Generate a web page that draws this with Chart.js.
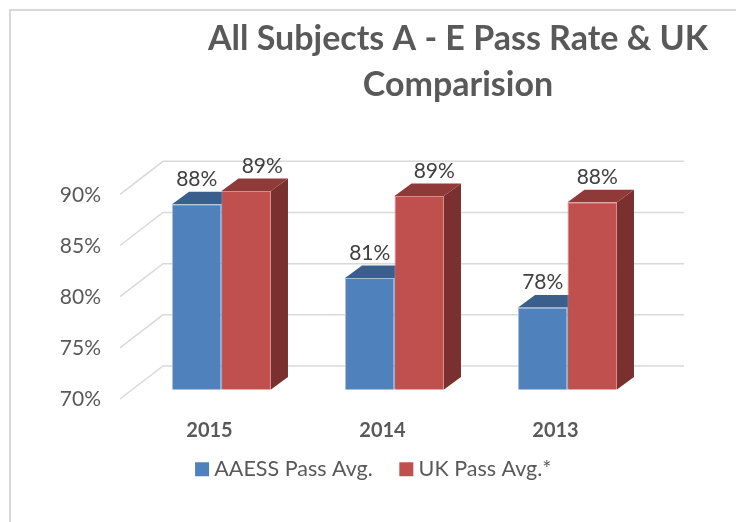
<!DOCTYPE html>
<html>
<head>
<meta charset="utf-8">
<style>
  html, body { margin: 0; padding: 0; background: #fff; }
  #wrap { position: relative; width: 736px; height: 522px; overflow: hidden; }
  canvas { display: block; }
</style>
<script src="https://cdn.jsdelivr.net/npm/chart.js@4"></script>
</head>
<body>
<div id="wrap"><canvas id="chart" width="736" height="522"></canvas></div>
<script>
const titleLines = ['All Subjects A - E Pass Rate & UK', 'Comparision'];
const years = ['2015', '2014', '2013'];
const aaessValues = [88.1, 80.9, 78.0];
const ukValues = [89.4, 88.9, 88.3];
const yMin = 70;
const yMax = 90;
const yStep = 5;

// 3d look, in pixels
const wallX = 43, wallY = 33;      // front of floor to back wall
const floorX = 15, floorY = 9.5;   // axis plane to front of the bars
const barDepthX = 17, barDepthY = 12.5;
const wallRight = 684;
const redLabelShift = [16, 15, 5];

function poly(ctx, pts, color) {
    ctx.fillStyle = color;
    ctx.beginPath();
    pts.forEach((p, i) => i ? ctx.lineTo(p[0], p[1]) : ctx.moveTo(p[0], p[1]));
    ctx.closePath();
    ctx.fill();
}

const fake3d = {
    id: 'fake3d',
    afterLayout(chart) {
        // title and legend are not centred on the plot in the original
        chart.titleBlock.left += 131;
        chart.titleBlock.right += 131;
        chart.legend.left += 49;
        chart.legend.right += 49;
        chart.legend.top -= 32;
        chart.legend.bottom -= 32;
    },
    beforeDraw(chart) {
        const ctx = chart.ctx;
        ctx.save();
        ctx.strokeStyle = '#d9d9d9';
        ctx.lineWidth = 2;
        ctx.beginPath();
        ctx.moveTo(736, 10);
        ctx.lineTo(10, 10);
        ctx.lineTo(10, 522);
        ctx.stroke();
        ctx.restore();
    },
    beforeDatasetsDraw(chart) {
        const ctx = chart.ctx;
        const y = chart.scales.y;
        const left = chart.chartArea.left - floorX;
        const floor = y.getPixelForValue(yMin);
        ctx.save();
        ctx.strokeStyle = '#d9d9d9';
        ctx.lineWidth = 1.5;
        y.ticks.forEach(t => {
            const py = y.getPixelForValue(t.value) + floorY;
            ctx.beginPath();
            ctx.moveTo(left, py);
            ctx.lineTo(left + wallX, py - wallY);
            ctx.lineTo(wallRight, py - wallY);
            ctx.stroke();
        });
        const tops = ['#3b5f8d', '#8f3a38'];
        const sides = ['#345478', '#7a302e'];
        chart.data.datasets.forEach((ds, d) => {
            chart.getDatasetMeta(d).data.forEach(bar => {
                const l = bar.x - bar.width / 2, r = bar.x + bar.width / 2;
                poly(ctx, [[r, bar.y], [r + barDepthX, bar.y - barDepthY],
                    [r + barDepthX, floor - barDepthY], [r, floor]], sides[d]);
                poly(ctx, [[l, bar.y], [l + barDepthX, bar.y - barDepthY],
                    [r + barDepthX, bar.y - barDepthY], [r, bar.y]], tops[d]);
            });
        });
        ctx.restore();
    },
    afterDatasetsDraw(chart) {
        const ctx = chart.ctx;
        ctx.save();
        ctx.font = '21px Lato';
        ctx.fillStyle = '#404040';
        ctx.textAlign = 'center';
        ctx.textBaseline = 'middle';
        chart.data.datasets.forEach((ds, d) => {
            chart.getDatasetMeta(d).data.forEach((bar, i) => {
                const shift = d === 1 ? redLabelShift[i] : 0;
                ctx.fillText(Math.round(ds.data[i]) + '%', bar.x + shift, bar.y - 25);
            });
        });
        ctx.restore();
    }
};

new Chart(document.getElementById('chart').getContext('2d'), {
    type: 'bar',
    data: {
        labels: years,
        datasets: [{
            label: 'AAESS Pass Avg.',
            data: aaessValues,
            backgroundColor: '#4f81bd',
            borderColor: '#a5bcdb',
            borderWidth: 1,
            barPercentage: 1,
            categoryPercentage: 0.572
        }, {
            label: 'UK Pass Avg.*',
            data: ukValues,
            backgroundColor: '#c0504d',
            borderColor: '#d98c8a',
            borderWidth: 1,
            barPercentage: 1,
            categoryPercentage: 0.572
        }]
    },
    options: {
        responsive: false,
        animation: false,
        layout: { padding: { left: 0, right: 82, top: 0, bottom: 0 } },
        scales: {
            x: {
                afterFit(scale) { scale.height = 69; },
                grid: { display: false },
                border: { display: false },
                ticks: {
                    color: '#595959',
                    font: { family: 'Lato', size: 20, weight: 'bold' },
                    padding: 21,
                    labelOffset: -12,
                    maxRotation: 0
                }
            },
            y: {
                min: yMin,
                max: yMax,
                afterFit(scale) { scale.width = 135; },
                grid: { display: false },
                border: { display: false },
                ticks: {
                    stepSize: yStep,
                    color: '#595959',
                    font: { family: 'Lato', size: 21 },
                    padding: 26,
                    labelOffset: 10,
                    callback: v => v + '%'
                }
            }
        },
        plugins: {
            tooltip: { enabled: false },
            title: {
                display: true,
                text: titleLines,
                color: '#595959',
                font: { family: 'Lato', size: 34, weight: 'bold', lineHeight: 1.35 },
                padding: { top: 16, bottom: 77 }
            },
            legend: {
                position: 'bottom',
                labels: {
                    color: '#595959',
                    font: { family: 'Lato', size: 21.5 },
                    usePointStyle: true,
                    pointStyle: 'rect',
                    boxWidth: 3,
                    boxHeight: 14,
                    padding: 32,
                    generateLabels(chart) {
                        return Chart.defaults.plugins.legend.labels.generateLabels(chart)
                            .map(item => Object.assign(item, { lineWidth: 0 }));
                    }
                }
            }
        }
    },
    plugins: [fake3d]
});
</script>
</body>
</html>
